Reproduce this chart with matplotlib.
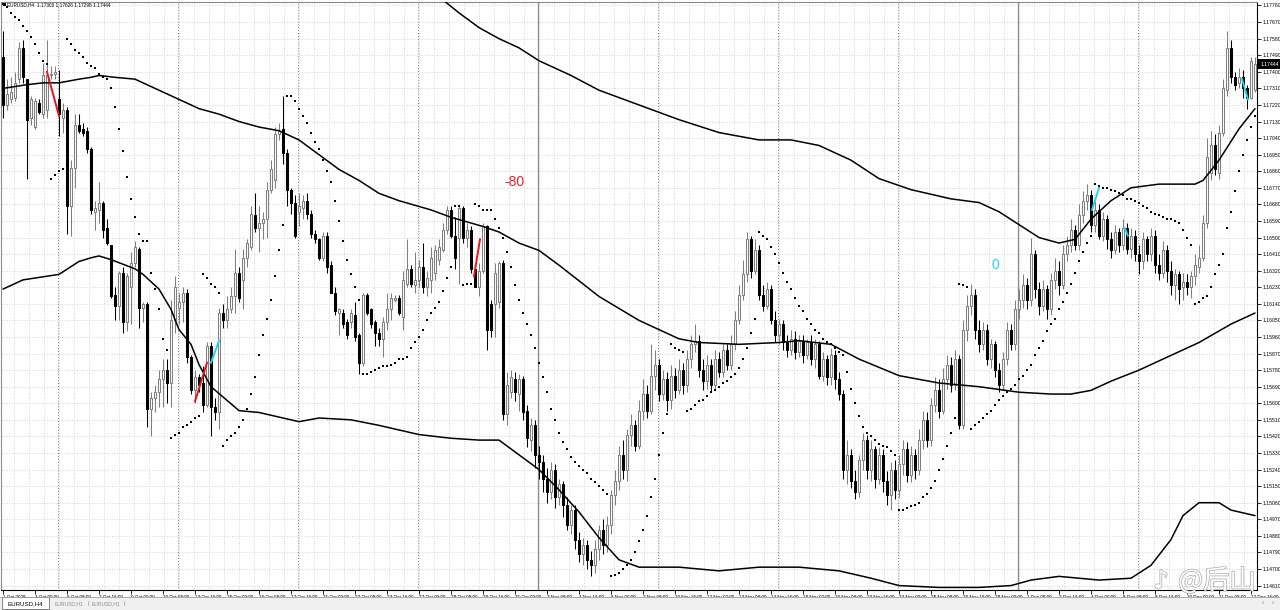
import numpy as np
import matplotlib.pyplot as plt
import matplotlib.patheffects as pe
from matplotlib.patches import Rectangle

plt.rcParams['font.family'] = ['Liberation Sans', 'DejaVu Sans']

# --- EURUSD H4 bars, bar 0 = 1 Oct 2025 16:00 ---
opens = [
    1.1748, 1.1722, 1.1725, 1.1726, 1.1736, 1.1753, 1.1736, 1.1715, 1.1710, 1.1723,
    1.1717, 1.1719, 1.1738, 1.1739, 1.1725, 1.1715, 1.1719, 1.1667, 1.1688, 1.1711,
    1.1709, 1.1708, 1.1698, 1.1664, 1.1665, 1.1669, 1.1655, 1.1646, 1.1619, 1.1613,
    1.1631, 1.1604, 1.1623, 1.1636, 1.1644, 1.1612, 1.1614, 1.1557, 1.1563, 1.1566,
    1.1573, 1.1578, 1.1571, 1.1605, 1.1612, 1.1615, 1.1620, 1.1585, 1.1567, 1.1574,
    1.1571, 1.1559, 1.1591, 1.1558, 1.1555, 1.1609, 1.1605, 1.1611, 1.1618, 1.1631,
    1.1627, 1.1639, 1.1645, 1.1662, 1.1655, 1.1658, 1.1660, 1.1676, 1.1681, 1.1706,
    1.1709, 1.1696, 1.1676, 1.1669, 1.1664, 1.1666, 1.1670, 1.1663, 1.1652, 1.1649,
    1.1639, 1.1651, 1.1635, 1.1620, 1.1609, 1.1609, 1.1604, 1.1604, 1.1608, 1.1597,
    1.1582, 1.1619, 1.1611, 1.1604, 1.1598, 1.1595, 1.1604, 1.1611, 1.1616, 1.1617,
    1.1607, 1.1625, 1.1633, 1.1624, 1.1627, 1.1634, 1.1623, 1.1627, 1.1631, 1.1638,
    1.1643, 1.1654, 1.1665, 1.1651, 1.1650, 1.1666, 1.1650, 1.1654, 1.1633, 1.1623,
    1.1632, 1.1656, 1.1614, 1.1614, 1.1615, 1.1636, 1.1554, 1.1566, 1.1573, 1.1565,
    1.1573, 1.1556, 1.1540, 1.1548, 1.1532, 1.1528, 1.1519, 1.1512, 1.1524, 1.1509,
    1.1516, 1.1505, 1.1494, 1.1502, 1.1486, 1.1478, 1.1483, 1.1475, 1.1472, 1.1481,
    1.1491, 1.1483, 1.1494, 1.1510, 1.1518, 1.1532, 1.1524, 1.1543, 1.1548, 1.1537,
    1.1556, 1.1565, 1.1556, 1.1575, 1.1581, 1.1565, 1.1573, 1.1562, 1.1575, 1.1567,
    1.1578, 1.1570, 1.1584, 1.1592, 1.1594, 1.1578, 1.1572, 1.1581, 1.1570, 1.1584,
    1.1577, 1.1589, 1.1581, 1.1592, 1.1605, 1.1619, 1.1630, 1.1649, 1.1632, 1.1643,
    1.1619, 1.1613, 1.1622, 1.1605, 1.1597, 1.1603, 1.1593, 1.1589, 1.1595, 1.1588,
    1.1594, 1.1586, 1.1593, 1.1584, 1.1592, 1.1575, 1.1584, 1.1574, 1.1586, 1.1573,
    1.1565, 1.1524, 1.1532, 1.1518, 1.1512, 1.1529, 1.1540, 1.1524, 1.1535, 1.1519,
    1.1532, 1.1518, 1.1510, 1.1524, 1.1513, 1.1527, 1.1535, 1.1521, 1.1532, 1.1524,
    1.1540, 1.1551, 1.1540, 1.1559, 1.1567, 1.1556, 1.1573, 1.1581, 1.1570, 1.1584,
    1.1548, 1.1600, 1.1613, 1.1619, 1.1600, 1.1592, 1.1600, 1.1584, 1.1592, 1.1578,
    1.1570, 1.1584, 1.1600, 1.1592, 1.1611, 1.1616, 1.1624, 1.1616, 1.1641, 1.1622,
    1.1613, 1.1622, 1.1611, 1.1627, 1.1632, 1.1624, 1.1641, 1.1646, 1.1654, 1.1646,
    1.1662, 1.1670, 1.1673, 1.1657, 1.1665, 1.1651, 1.1660, 1.1649, 1.1643, 1.1653,
    1.1646, 1.1655, 1.1644, 1.1651, 1.1641, 1.1637, 1.1649, 1.1641, 1.1651, 1.1635,
    1.1631, 1.1643, 1.1632, 1.1624, 1.1630, 1.1623, 1.1626, 1.1623, 1.1629, 1.1634,
    1.1639, 1.1658, 1.1685, 1.1700, 1.1685, 1.1707, 1.1730, 1.1753, 1.1737, 1.1734,
    1.1737, 1.1731, 1.1726, 1.1730]

closes = [
    1.1722, 1.1728, 1.1729, 1.1734, 1.1753, 1.1737, 1.1714, 1.1725, 1.1724, 1.1718,
    1.1738, 1.1738, 1.1739, 1.1740, 1.1717, 1.1719, 1.1667, 1.1688, 1.1711, 1.1708,
    1.1707, 1.1698, 1.1665, 1.1666, 1.1669, 1.1654, 1.1647, 1.1618, 1.1613, 1.1631,
    1.1604, 1.1629, 1.1636, 1.1645, 1.1612, 1.1614, 1.1557, 1.1563, 1.1566, 1.1573,
    1.1578, 1.1571, 1.1605, 1.1623, 1.1615, 1.1620, 1.1585, 1.1567, 1.1574, 1.1570,
    1.1559, 1.1591, 1.1558, 1.1555, 1.1609, 1.1605, 1.1611, 1.1618, 1.1631, 1.1617,
    1.1639, 1.1647, 1.1663, 1.1655, 1.1658, 1.1660, 1.1676, 1.1687, 1.1706, 1.1708,
    1.1696, 1.1676, 1.1669, 1.1651, 1.1667, 1.1670, 1.1663, 1.1652, 1.1649, 1.1639,
    1.1651, 1.1634, 1.1620, 1.1610, 1.1611, 1.1603, 1.1597, 1.1609, 1.1596, 1.1582,
    1.1619, 1.1609, 1.1603, 1.1598, 1.1595, 1.1604, 1.1611, 1.1617, 1.1617, 1.1609,
    1.1627, 1.1633, 1.1625, 1.1627, 1.1634, 1.1623, 1.1628, 1.1639, 1.1643, 1.1645,
    1.1654, 1.1665, 1.1651, 1.1639, 1.1666, 1.1650, 1.1654, 1.1633, 1.1623, 1.1632,
    1.1656, 1.1600, 1.1600, 1.1631, 1.1636, 1.1554, 1.1570, 1.1574, 1.1566, 1.1573,
    1.1555, 1.1541, 1.1548, 1.1532, 1.1528, 1.1519, 1.1512, 1.1524, 1.1509, 1.1516,
    1.1505, 1.1494, 1.1502, 1.1486, 1.1478, 1.1483, 1.1475, 1.1472, 1.1481, 1.1491,
    1.1483, 1.1494, 1.1510, 1.1518, 1.1532, 1.1524, 1.1543, 1.1548, 1.1537, 1.1556,
    1.1565, 1.1556, 1.1575, 1.1581, 1.1565, 1.1573, 1.1562, 1.1575, 1.1567, 1.1578,
    1.1570, 1.1584, 1.1592, 1.1594, 1.1578, 1.1572, 1.1581, 1.1570, 1.1584, 1.1577,
    1.1589, 1.1581, 1.1592, 1.1605, 1.1619, 1.1630, 1.1649, 1.1632, 1.1643, 1.1619,
    1.1613, 1.1622, 1.1605, 1.1597, 1.1603, 1.1593, 1.1589, 1.1595, 1.1588, 1.1594,
    1.1586, 1.1593, 1.1584, 1.1592, 1.1575, 1.1584, 1.1574, 1.1586, 1.1573, 1.1565,
    1.1524, 1.1532, 1.1518, 1.1512, 1.1529, 1.1540, 1.1524, 1.1535, 1.1519, 1.1532,
    1.1518, 1.1510, 1.1524, 1.1513, 1.1527, 1.1535, 1.1521, 1.1532, 1.1524, 1.1540,
    1.1551, 1.1540, 1.1559, 1.1567, 1.1556, 1.1573, 1.1581, 1.1570, 1.1584, 1.1548,
    1.1600, 1.1613, 1.1619, 1.1600, 1.1592, 1.1600, 1.1584, 1.1592, 1.1578, 1.1570,
    1.1584, 1.1600, 1.1592, 1.1611, 1.1616, 1.1624, 1.1616, 1.1641, 1.1622, 1.1613,
    1.1622, 1.1611, 1.1627, 1.1632, 1.1624, 1.1641, 1.1646, 1.1654, 1.1646, 1.1662,
    1.1670, 1.1673, 1.1657, 1.1665, 1.1651, 1.1660, 1.1649, 1.1643, 1.1653, 1.1646,
    1.1655, 1.1644, 1.1651, 1.1641, 1.1637, 1.1649, 1.1641, 1.1651, 1.1635, 1.1631,
    1.1643, 1.1632, 1.1624, 1.1630, 1.1622, 1.1626, 1.1623, 1.1629, 1.1635, 1.1639,
    1.1658, 1.1694, 1.1700, 1.1687, 1.1707, 1.1731, 1.1753, 1.1737, 1.1733, 1.1737,
    1.1731, 1.1726, 1.1746, 1.1744]

highs = [
    1.1762, 1.1736, 1.1737, 1.1740, 1.1756, 1.1757, 1.1736, 1.1727, 1.1726, 1.1725,
    1.1745, 1.1757, 1.1743, 1.1743, 1.1741, 1.1723, 1.1721, 1.1692, 1.1717, 1.1717,
    1.1712, 1.1710, 1.1699, 1.1670, 1.1680, 1.1670, 1.1660, 1.1646, 1.1623, 1.1632,
    1.1634, 1.1631, 1.1642, 1.1648, 1.1645, 1.1615, 1.1615, 1.1566, 1.1570, 1.1578,
    1.1584, 1.1584, 1.1616, 1.1629, 1.1620, 1.1623, 1.1622, 1.1586, 1.1578, 1.1576,
    1.1580, 1.1593, 1.1593, 1.1563, 1.1612, 1.1614, 1.1618, 1.1623, 1.1644, 1.1634,
    1.1644, 1.1649, 1.1667, 1.1674, 1.1667, 1.1664, 1.1680, 1.1692, 1.1710, 1.1712,
    1.1727, 1.1698, 1.1677, 1.1673, 1.1674, 1.1673, 1.1674, 1.1665, 1.1654, 1.1650,
    1.1653, 1.1653, 1.1637, 1.1623, 1.1612, 1.1611, 1.1606, 1.1611, 1.1615, 1.1598,
    1.1620, 1.1620, 1.1612, 1.1605, 1.1601, 1.1607, 1.1620, 1.1620, 1.1619, 1.1619,
    1.1632, 1.1649, 1.1635, 1.1642, 1.1638, 1.1647, 1.1632, 1.1645, 1.1646, 1.1649,
    1.1658, 1.1667, 1.1667, 1.1661, 1.1667, 1.1667, 1.1658, 1.1656, 1.1635, 1.1636,
    1.1658, 1.1657, 1.1616, 1.1636, 1.1637, 1.1638, 1.1577, 1.1578, 1.1577, 1.1576,
    1.1575, 1.1559, 1.1552, 1.1551, 1.1537, 1.1532, 1.1525, 1.1528, 1.1527, 1.1519,
    1.1518, 1.1509, 1.1505, 1.1505, 1.1490, 1.1487, 1.1486, 1.1480, 1.1486, 1.1494,
    1.1497, 1.1499, 1.1513, 1.1524, 1.1537, 1.1540, 1.1546, 1.1554, 1.1551, 1.1562,
    1.1573, 1.1570, 1.1592, 1.1589, 1.1584, 1.1578, 1.1577, 1.1581, 1.1579, 1.1584,
    1.1582, 1.1589, 1.1597, 1.1603, 1.1597, 1.1584, 1.1586, 1.1584, 1.1589, 1.1588,
    1.1592, 1.1592, 1.1597, 1.1610, 1.1624, 1.1638, 1.1653, 1.1651, 1.1649, 1.1646,
    1.1624, 1.1626, 1.1624, 1.1610, 1.1606, 1.1605, 1.1597, 1.1600, 1.1599, 1.1597,
    1.1597, 1.1595, 1.1597, 1.1595, 1.1594, 1.1588, 1.1586, 1.1590, 1.1589, 1.1577,
    1.1567, 1.1540, 1.1535, 1.1524, 1.1532, 1.1544, 1.1543, 1.1540, 1.1537, 1.1536,
    1.1535, 1.1523, 1.1528, 1.1529, 1.1532, 1.1540, 1.1539, 1.1537, 1.1535, 1.1546,
    1.1556, 1.1555, 1.1563, 1.1574, 1.1573, 1.1579, 1.1586, 1.1585, 1.1589, 1.1586,
    1.1605, 1.1619, 1.1625, 1.1622, 1.1605, 1.1604, 1.1603, 1.1595, 1.1594, 1.1582,
    1.1588, 1.1604, 1.1603, 1.1616, 1.1622, 1.1630, 1.1628, 1.1650, 1.1643, 1.1626,
    1.1627, 1.1624, 1.1631, 1.1639, 1.1637, 1.1646, 1.1651, 1.1660, 1.1657, 1.1668,
    1.1675, 1.1679, 1.1676, 1.1670, 1.1668, 1.1664, 1.1662, 1.1653, 1.1657, 1.1655,
    1.1660, 1.1658, 1.1655, 1.1654, 1.1646, 1.1653, 1.1651, 1.1655, 1.1654, 1.1641,
    1.1648, 1.1646, 1.1637, 1.1633, 1.1632, 1.1631, 1.1630, 1.1632, 1.1641, 1.1646,
    1.1662, 1.1704, 1.1708, 1.1706, 1.1711, 1.1736, 1.1762, 1.1757, 1.1740, 1.1742,
    1.1741, 1.1733, 1.1748, 1.1748]

lows = [
    1.1715, 1.1719, 1.1723, 1.1724, 1.1734, 1.1734, 1.1682, 1.1711, 1.1709, 1.1717,
    1.1715, 1.1715, 1.1736, 1.1736, 1.1705, 1.1707, 1.1652, 1.1651, 1.1677, 1.1707,
    1.1705, 1.1696, 1.1663, 1.1654, 1.1658, 1.1650, 1.1646, 1.1617, 1.1605, 1.1605,
    1.1598, 1.1599, 1.1603, 1.1634, 1.1601, 1.1604, 1.1547, 1.1542, 1.1555, 1.1558,
    1.1558, 1.1560, 1.1558, 1.1598, 1.1603, 1.1604, 1.1582, 1.1565, 1.1560, 1.1566,
    1.1555, 1.1558, 1.1542, 1.1551, 1.1546, 1.1601, 1.1601, 1.1609, 1.1609, 1.1615,
    1.1611, 1.1634, 1.1643, 1.1653, 1.1642, 1.1649, 1.1650, 1.1674, 1.1677, 1.1703,
    1.1690, 1.1667, 1.1663, 1.1650, 1.1656, 1.1660, 1.1660, 1.1650, 1.1647, 1.1638,
    1.1637, 1.1631, 1.1620, 1.1608, 1.1597, 1.1601, 1.1595, 1.1601, 1.1594, 1.1576,
    1.1580, 1.1608, 1.1601, 1.1591, 1.1591, 1.1585, 1.1600, 1.1605, 1.1615, 1.1608,
    1.1600, 1.1623, 1.1623, 1.1620, 1.1623, 1.1620, 1.1618, 1.1620, 1.1627, 1.1635,
    1.1642, 1.1652, 1.1650, 1.1633, 1.1625, 1.1647, 1.1645, 1.1631, 1.1623, 1.1618,
    1.1631, 1.1589, 1.1596, 1.1596, 1.1612, 1.1551, 1.1548, 1.1563, 1.1561, 1.1556,
    1.1551, 1.1536, 1.1534, 1.1525, 1.1519, 1.1512, 1.1506, 1.1508, 1.1503, 1.1505,
    1.1498, 1.1491, 1.1489, 1.1481, 1.1474, 1.1472, 1.1470, 1.1466, 1.1468, 1.1475,
    1.1478, 1.1479, 1.1489, 1.1505, 1.1513, 1.1519, 1.1518, 1.1537, 1.1534, 1.1535,
    1.1551, 1.1552, 1.1554, 1.1567, 1.1561, 1.1562, 1.1556, 1.1557, 1.1563, 1.1565,
    1.1565, 1.1566, 1.1579, 1.1588, 1.1574, 1.1567, 1.1568, 1.1566, 1.1567, 1.1574,
    1.1574, 1.1578, 1.1578, 1.1589, 1.1603, 1.1616, 1.1626, 1.1628, 1.1630, 1.1616,
    1.1610, 1.1611, 1.1603, 1.1593, 1.1592, 1.1589, 1.1585, 1.1586, 1.1584, 1.1585,
    1.1582, 1.1584, 1.1581, 1.1579, 1.1573, 1.1572, 1.1570, 1.1570, 1.1568, 1.1562,
    1.1519, 1.1516, 1.1514, 1.1508, 1.1509, 1.1524, 1.1519, 1.1518, 1.1514, 1.1516,
    1.1512, 1.1505, 1.1502, 1.1508, 1.1509, 1.1521, 1.1517, 1.1517, 1.1519, 1.1521,
    1.1535, 1.1536, 1.1537, 1.1555, 1.1552, 1.1554, 1.1568, 1.1566, 1.1567, 1.1546,
    1.1546, 1.1594, 1.1608, 1.1595, 1.1588, 1.1589, 1.1581, 1.1579, 1.1574, 1.1566,
    1.1567, 1.1581, 1.1589, 1.1589, 1.1606, 1.1612, 1.1611, 1.1613, 1.1617, 1.1608,
    1.1610, 1.1606, 1.1608, 1.1622, 1.1619, 1.1622, 1.1637, 1.1642, 1.1643, 1.1643,
    1.1658, 1.1665, 1.1653, 1.1653, 1.1649, 1.1648, 1.1644, 1.1639, 1.1641, 1.1642,
    1.1643, 1.1641, 1.1639, 1.1637, 1.1630, 1.1633, 1.1637, 1.1637, 1.1631, 1.1627,
    1.1628, 1.1626, 1.1619, 1.1616, 1.1614, 1.1616, 1.1619, 1.1617, 1.1624, 1.1631,
    1.1637, 1.1655, 1.1681, 1.1684, 1.1682, 1.1705, 1.1727, 1.1734, 1.1730, 1.1731,
    1.1726, 1.1720, 1.1725, 1.1729]

# Parabolic SAR, one dot per bar
sar = [
    1.1777, 1.1775, 1.1772, 1.1770, 1.1768, 1.1765, 1.1762, 1.1759, 1.1755, 1.1750,
    1.1746, 1.1744, 1.1682, 1.1684, 1.1686, 1.1687, 1.1758, 1.1755, 1.1752, 1.1750,
    1.1748, 1.1745, 1.1743, 1.1742, 1.1739, 1.1737, 1.1736, 1.1731, 1.1721, 1.1709,
    1.1697, 1.1683, 1.1671, 1.1661, 1.1652, 1.1648, 1.1648, 1.1631, 1.1622, 1.1611,
    1.1595, 1.1589, 1.1541, 1.1543, 1.1544, 1.1547, 1.1548, 1.1550, 1.1552, 1.1553,
    1.1630, 1.1628, 1.1625, 1.1623, 1.1620, 1.1537, 1.1540, 1.1542, 1.1544, 1.1547,
    1.1551, 1.1557, 1.1565, 1.1574, 1.1586, 1.1597, 1.1606, 1.1616, 1.1629, 1.1643,
    1.1657, 1.1727, 1.1727, 1.1724, 1.1720, 1.1716, 1.1712, 1.1707, 1.1702, 1.1698,
    1.1692, 1.1686, 1.1680, 1.1670, 1.1659, 1.1648, 1.1638, 1.1630, 1.1623, 1.1616,
    1.1576, 1.1576, 1.1577, 1.1578, 1.1579, 1.1580, 1.1580, 1.1581, 1.1582, 1.1584,
    1.1584, 1.1585, 1.1590, 1.1593, 1.1596, 1.1600, 1.1605, 1.1609, 1.1612, 1.1615,
    1.1621, 1.1628, 1.1634, 1.1667, 1.1667, 1.1624, 1.1625, 1.1625, 1.1668, 1.1667,
    1.1665, 1.1665, 1.1665, 1.1660, 1.1655, 1.1650, 1.1642, 1.1634, 1.1624, 1.1616,
    1.1609, 1.1603, 1.1597, 1.1590, 1.1582, 1.1574, 1.1566, 1.1557, 1.1551, 1.1544,
    1.1539, 1.1535, 1.1531, 1.1528, 1.1526, 1.1524, 1.1522, 1.1519, 1.1517, 1.1515,
    1.1513, 1.1511, 1.1466, 1.1467, 1.1468, 1.1470, 1.1472, 1.1475, 1.1479, 1.1485,
    1.1491, 1.1499, 1.1509, 1.1519, 1.1532, 1.1544, 1.1554, 1.1592, 1.1590, 1.1589,
    1.1588, 1.1556, 1.1557, 1.1559, 1.1561, 1.1562, 1.1564, 1.1566, 1.1567, 1.1569,
    1.1571, 1.1572, 1.1574, 1.1576, 1.1579, 1.1584, 1.1590, 1.1598, 1.1606, 1.1653,
    1.1651, 1.1649, 1.1645, 1.1641, 1.1636, 1.1631, 1.1626, 1.1622, 1.1617, 1.1613,
    1.1610, 1.1606, 1.1603, 1.1600, 1.1598, 1.1595, 1.1593, 1.1592, 1.1590, 1.1588,
    1.1586, 1.1577, 1.1568, 1.1560, 1.1553, 1.1547, 1.1544, 1.1542, 1.1540, 1.1538,
    1.1537, 1.1536, 1.1534, 1.1532, 1.1502, 1.1502, 1.1503, 1.1504, 1.1505, 1.1506,
    1.1509, 1.1511, 1.1514, 1.1518, 1.1524, 1.1530, 1.1537, 1.1544, 1.1552, 1.1625,
    1.1624, 1.1623, 1.1546, 1.1548, 1.1550, 1.1552, 1.1554, 1.1556, 1.1559, 1.1562,
    1.1564, 1.1566, 1.1568, 1.1570, 1.1573, 1.1575, 1.1578, 1.1581, 1.1586, 1.1590,
    1.1594, 1.1599, 1.1603, 1.1606, 1.1611, 1.1615, 1.1620, 1.1625, 1.1631, 1.1637,
    1.1642, 1.1647, 1.1651, 1.1679, 1.1678, 1.1677, 1.1677, 1.1676, 1.1675, 1.1674,
    1.1673, 1.1671, 1.1671, 1.1670, 1.1669, 1.1667, 1.1666, 1.1664, 1.1663, 1.1662,
    1.1661, 1.1660, 1.1660, 1.1659, 1.1658, 1.1654, 1.1650, 1.1646, 1.1614, 1.1615,
    1.1617, 1.1618, 1.1623, 1.1630, 1.1635, 1.1641, 1.1655, 1.1664, 1.1675, 1.1686,
    1.1695, 1.1703, 1.1710, 1.1716]

# moving average and envelope bands as (bar, price)
mid_bar = [0, 3, 6, 10, 14, 19, 22, 24, 28, 33, 37, 44, 49, 54, 59, 64, 69, 74, 79, 84,
           89, 94, 99, 107, 112, 120, 124, 129, 134, 139, 149, 159, 169, 174, 184, 194,
           199, 207, 214, 224, 234, 244, 254, 262, 267, 272, 277, 284, 292, 299, 307, 313]
mid_val = [1.1731, 1.1732, 1.1733, 1.1734, 1.1734, 1.1736, 1.1737, 1.1738, 1.1737, 1.1736,
           1.1732, 1.1725, 1.1720, 1.1717, 1.1713, 1.1710, 1.1708, 1.1703, 1.1695, 1.1687,
           1.1681, 1.1674, 1.1670, 1.1665, 1.1661, 1.1656, 1.1653, 1.1647, 1.1643, 1.1635,
           1.1618, 1.1605, 1.1595, 1.1593, 1.1592, 1.1593, 1.1594, 1.1592, 1.1584, 1.1575,
           1.1571, 1.1569, 1.1566, 1.1565, 1.1565, 1.1567, 1.1572, 1.1578, 1.1586, 1.1593,
           1.1603, 1.1609]

up_bar = [107, 110, 114, 119, 124, 129, 134, 142, 149, 159, 169, 179, 189, 197, 204, 212,
          219, 227, 237, 244, 249, 254, 259, 264, 268, 272, 277, 282, 289, 298, 300, 304,
          309, 313]
up_val = [1.1783, 1.1779, 1.1772, 1.1764, 1.1758, 1.1753, 1.1746, 1.1738, 1.1730, 1.1722,
          1.1714, 1.1707, 1.1703, 1.1703, 1.1700, 1.1692, 1.1682, 1.1676, 1.1671, 1.1669,
          1.1664, 1.1657, 1.1650, 1.1647, 1.1649, 1.1660, 1.1670, 1.1677, 1.1679, 1.1679,
          1.1681, 1.1692, 1.1709, 1.1720]

lo_bar = [0, 5, 14, 19, 22, 24, 27, 33, 35, 39, 42, 44, 47, 49, 52, 59, 64, 74, 79, 87,
          94, 104, 112, 119, 124, 129, 134, 139, 144, 149, 154, 159, 169, 179, 189, 199,
          209, 217, 224, 234, 244, 252, 257, 264, 269, 274, 282, 287, 292, 295, 299, 304,
          307, 313]
lo_val = [1.1622, 1.1627, 1.1630, 1.1637, 1.1639, 1.1640, 1.1638, 1.1633, 1.1630, 1.1622,
          1.1611, 1.1600, 1.1592, 1.1581, 1.1569, 1.1556, 1.1555, 1.1550, 1.1552, 1.1551,
          1.1548, 1.1543, 1.1541, 1.1540, 1.1540, 1.1532, 1.1524, 1.1513, 1.1501, 1.1487,
          1.1475, 1.1471, 1.1471, 1.1469, 1.1471, 1.1471, 1.1469, 1.1465, 1.1461, 1.1460,
          1.1460, 1.1461, 1.1464, 1.1466, 1.1465, 1.1464, 1.1465, 1.1472, 1.1486, 1.1499,
          1.1506, 1.1506, 1.1502, 1.1499]

# zigzag legs (bar0, price0, bar1, price1)
red_legs = [(11, 1.1740, 14, 1.1716), (48, 1.1561, 51, 1.1582), (117.75, 1.1629, 119.25, 1.1649)]
cyan_legs = [(52, 1.1582, 54, 1.1594), (272.25, 1.1665, 274, 1.1677),
             (280.5, 1.1655, 281.2, 1.1651), (309.75, 1.1736, 311.25, 1.1725)]

price_ticks = [1.17760, 1.17670, 1.17580, 1.17490, 1.17400, 1.17310, 1.17220, 1.17130,
               1.17040, 1.16950, 1.16860, 1.16770, 1.16680, 1.16590, 1.16500, 1.16410,
               1.16320, 1.16230, 1.16140, 1.16050, 1.15960, 1.15870, 1.15780, 1.15690,
               1.15600, 1.15510, 1.15420, 1.15330, 1.15240, 1.15150, 1.15060, 1.14970,
               1.14880, 1.14790, 1.14700, 1.14610]
time_labels = ['1 Oct 2025', '3 Oct 00:00', '6 Oct 08:00', '7 Oct 16:00', '9 Oct 00:00',
               '10 Oct 08:00', '13 Oct 16:00', '15 Oct 00:00', '16 Oct 08:00', '17 Oct 16:00',
               '21 Oct 00:00', '22 Oct 08:00', '23 Oct 16:00', '27 Oct 00:00', '28 Oct 08:00',
               '29 Oct 16:00', '31 Oct 00:00', '3 Nov 08:00', '4 Nov 16:00', '6 Nov 00:00',
               '7 Nov 08:00', '10 Nov 16:00', '12 Nov 00:00', '13 Nov 08:00', '14 Nov 16:00',
               '18 Nov 00:00', '19 Nov 08:00', '20 Nov 16:00', '24 Nov 00:00', '25 Nov 08:00',
               '26 Nov 16:00', '28 Nov 00:00', '1 Dec 08:00', '2 Dec 16:00', '4 Dec 00:00',
               '5 Dec 08:00', '8 Dec 16:00', '10 Dec 00:00', '11 Dec 08:00', '12 Dec 16:00']
week_starts = [14, 44, 74, 104, 164, 194, 224, 284]   # Monday 00:00 bars
month_starts = [134, 254]                             # 3 Nov, 1 Dec

# --- figure ---
W, H = 1280, 610
fig = plt.figure(figsize=(W / 100, H / 100), dpi=100)
ax = fig.add_axes([1 / W, 20 / H, 1256 / W, 588 / H])
ax.set_xlim(-0.5, 313.5)
ax.set_ylim(1.14586, 1.17779)

o, h, l, c = (np.array(v) for v in (opens, highs, lows, closes))
idx = np.arange(len(c))
bull = c >= o

# grid: horizontal at price labels, vertical every 15 px
ax.hlines(price_ticks, -1, 320, colors='#c8c8c8', linestyles=(0, (1, 2)), lw=0.6, zorder=1)
grid_px = 58.5 + 15 * np.arange(-3, 82)
ax.vlines((grid_px - 3) / 4, 1.14, 1.18, colors='#c8c8c8', linestyles=(0, (1, 2)), lw=0.6, zorder=1)
ax.vlines(np.array(week_starts) - 0.15, 1.14, 1.18, colors='#7a7a7a',
          linestyles=(0, (1, 2)), lw=0.7, zorder=1.5)
ax.vlines(np.array(month_starts) - 0.15, 1.14, 1.18, colors='#8a8a8a', lw=0.9, zorder=1.5)

# candles
ax.vlines(idx[bull], l[bull], h[bull], colors='#7f7f7f', lw=0.75, zorder=3)
ax.vlines(idx[~bull], l[~bull], h[~bull], colors='black', lw=0.75, zorder=3)
ax.bar(idx[bull], c[bull] - o[bull], bottom=o[bull], width=0.55, facecolor='white',
       edgecolor='#7f7f7f', linewidth=0.75, zorder=4)
ax.bar(idx[~bull], o[~bull] - c[~bull], bottom=c[~bull], width=0.55, facecolor='black',
       edgecolor='black', linewidth=0.75, zorder=4)

# envelope
for bx, by in ((mid_bar, mid_val), (up_bar, up_val), (lo_bar, lo_val)):
    ax.plot(bx, by, color='black', lw=1.1, zorder=5, solid_capstyle='round')

# parabolic SAR
ax.scatter(idx, sar, s=4, marker='s', color='black', linewidths=0, zorder=6)

# zigzag legs
for x0, y0, x1, y1 in red_legs:
    ax.plot([x0, x1], [y0, y1], color='#e8141c', lw=1.4, zorder=7)
for x0, y0, x1, y1 in cyan_legs:
    ax.plot([x0, x1], [y0, y1], color='#18d8ea', lw=1.4, zorder=7)

ax.text(127.75, 1.1680, '-80', color='#e8242b', fontsize=10, ha='center', va='center', zorder=8)
ax.text(248, 1.1635, '0', color='#22d0f0', fontsize=10, ha='center', va='center', zorder=8)

# axes styling
ax.yaxis.tick_right()
ax.set_yticks(price_ticks)
ax.set_yticklabels([f'{v:.5f}' for v in price_ticks])
ax.set_xticks([8 * k for k in range(len(time_labels))])
ax.set_xticklabels(time_labels, ha='left')
ax.tick_params(axis='y', labelsize=3.7, length=3, width=0.6, pad=1, colors='black')
ax.tick_params(axis='x', labelsize=3.3, length=3, width=0.6, pad=0.8, colors='black')
for side in ('right', 'bottom'):
    ax.spines[side].set_color('black')
    ax.spines[side].set_linewidth(0.8)
for side in ('left', 'top'):
    ax.spines[side].set_color('#8a8a8a')
    ax.spines[side].set_linewidth(0.8)

# overlay in pixel coordinates: title, price box, tabs, watermark
ov = fig.add_axes([0, 0, 1, 1], zorder=10)
ov.set_xlim(0, W)
ov.set_ylim(H, 0)
ov.axis('off')
ov.patch.set_alpha(0)

ov.add_patch(Rectangle((2.5, 3), 3, 3, facecolor='black', edgecolor='none'))
ov.text(7, 5, 'EURUSD,H4  1.17303 1.17626 1.17298 1.17444', fontsize=3.4, va='center')

ov.add_patch(Rectangle((1258, 59), 22, 10, facecolor='black', edgecolor='none'))
ov.text(1261, 64, '1.17444', color='white', fontsize=3.7, va='center')

ov.add_patch(Rectangle((0, 597), W, 13, facecolor='#f0f0f0', edgecolor='none'))
ov.plot([0, W], [597, 597], color='#a0a0a0', lw=0.6)
ov.add_patch(Rectangle((2, 597), 47, 12, facecolor='white', edgecolor='#707070', lw=0.6))
ov.text(8, 603.5, 'EURUSD,H4', fontsize=4.4, va='center', color='black')
ov.text(55, 603.5, 'EURUSD,H1', fontsize=3.6, va='center', color='#8c8c8c')
ov.text(87, 603.5, '|', fontsize=4.2, va='center', color='#8c8c8c')
ov.text(92, 603.5, 'EURUSD,H1', fontsize=3.6, va='center', color='#8c8c8c')
ov.text(124, 603.5, '|', fontsize=4.2, va='center', color='#8c8c8c')
ov.text(1262, 603.5, '‹', fontsize=5, va='center', color='#8c8c8c')
ov.text(1272, 603.5, '›', fontsize=5, va='center', color='#8c8c8c')

# faint outlined watermark in the lower right corner
ov.text(1153, 581, '♪', fontsize=18, va='center', family=['DejaVu Sans'], color='white',
        path_effects=[pe.withStroke(linewidth=1.0, foreground='#a8a8a8')])
ov.text(1178, 581, '@后山', fontsize=19, va='center', family=['Noto Sans CJK SC', 'DejaVu Sans'],
        color='white', path_effects=[pe.withStroke(linewidth=1.0, foreground='#a8a8a8')])

fig.savefig('out.png', dpi=100)
